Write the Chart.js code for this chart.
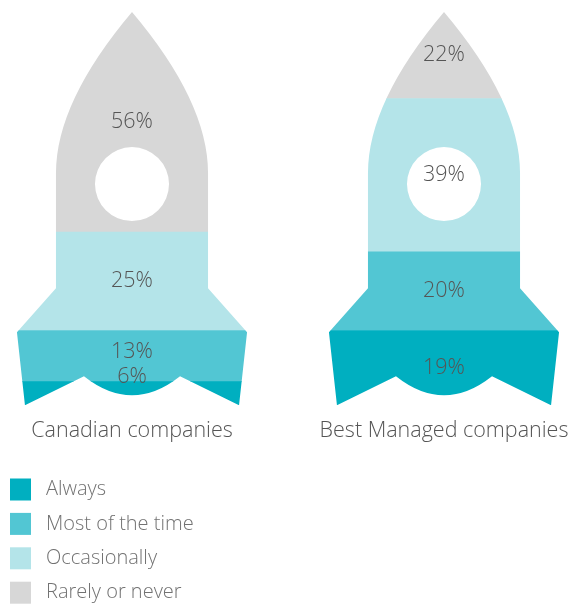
<!DOCTYPE html>
<html>
<head>
<meta charset="utf-8">
<script src="https://cdn.jsdelivr.net/npm/chart.js@4"></script>
<style>
  html, body { margin: 0; padding: 0; background: #fff; }
  #wrap { width: 582px; height: 607px; position: relative; }
</style>
</head>
<body>
<div id="wrap"><canvas id="rocketChart"></canvas></div>
<script>
// Data
var categories = ['Canadian companies', 'Best Managed companies'];
var seriesNames = ['Always', 'Most of the time', 'Occasionally', 'Rarely or never'];
var always = [6, 19];
var mostOfTheTime = [13, 20];
var occasionally = [25, 39];
var rarelyOrNever = [56, 22];

var seriesValues = [always, mostOfTheTime, occasionally, rarelyOrNever];
var seriesColors = ['#00AFC0', '#52C6D3', '#B4E4E9', '#D7D7D7'];
var fontFamily = '"Open Sans", "Noto Sans", sans-serif';

// rocket outline, in px relative to the bar centre and the top of the plot (393 px tall)
function rocketPath(ctx, cx, top, h) {
    var k = h / 393;
    function X(v) { return cx + v * k; }
    function Y(v) { return top + v * k; }
    ctx.moveTo(X(0), Y(0));
    ctx.quadraticCurveTo(X(76), Y(90), X(76), Y(161));
    ctx.lineTo(X(76), Y(276));
    ctx.lineTo(X(115), Y(320));
    ctx.lineTo(X(107), Y(393));
    ctx.lineTo(X(48), Y(364));
    ctx.quadraticCurveTo(X(24), Y(383), X(0), Y(383));
    ctx.quadraticCurveTo(X(-24), Y(383), X(-48), Y(364));
    ctx.lineTo(X(-107), Y(393));
    ctx.lineTo(X(-115), Y(320));
    ctx.lineTo(X(-76), Y(276));
    ctx.lineTo(X(-76), Y(161));
    ctx.quadraticCurveTo(X(-76), Y(90), X(0), Y(0));
    ctx.closePath();
    // window
    ctx.moveTo(X(37), Y(172));
    ctx.arc(X(0), Y(172), 37 * k, 0, Math.PI * 2);
    ctx.closePath();
}

var rocketClip = {
    id: 'rocketClip',
    beforeDatasetsDraw: function(chart) {
        var ctx = chart.ctx;
        var xs = chart.scales.x, ys = chart.scales.y;
        var top = ys.getPixelForValue(100), bottom = ys.getPixelForValue(0);
        ctx.save();
        ctx.beginPath();
        categories.forEach(function(c, i) {
            rocketPath(ctx, xs.getPixelForValue(i), top, bottom - top);
        });
        ctx.clip('evenodd');
    },
    afterDatasetsDraw: function(chart) {
        var ctx = chart.ctx;
        ctx.restore();
        // value labels, bottom-up so a thin segment does not collide with the one above
        ctx.save();
        ctx.font = '300 21.5px ' + fontFamily;
        ctx.fillStyle = '#555555';
        ctx.textAlign = 'center';
        ctx.textBaseline = 'middle';
        categories.forEach(function(c, i) {
            var prevY = Infinity;
            chart.data.datasets.forEach(function(ds, di) {
                var bar = chart.getDatasetMeta(di).data[i];
                var mid = (bar.y + bar.base) / 2;
                mid = Math.min(mid, bar.base - 28, prevY - 25);
                ctx.fillText(ds.data[i].y + '%', bar.x, mid);
                prevY = mid;
            });
        });
        ctx.restore();
    }
};

var sideLegend = {
    id: 'sideLegend',
    afterDraw: function(chart) {
        var ctx = chart.ctx;
        ctx.save();
        ctx.font = '300 20px ' + fontFamily;
        ctx.textBaseline = 'middle';
        chart.data.datasets.forEach(function(ds, i) {
            var cy = 489.5 + i * 34.4;
            ctx.fillStyle = ds.backgroundColor;
            ctx.fillRect(10, cy - 11, 21, 22);
            ctx.fillStyle = '#727272';
            ctx.fillText(ds.label, 46, cy);
        });
        ctx.restore();
    }
};

var datasets = seriesNames.map(function(name, s) {
    return {
        label: name,
        data: categories.map(function(c, i) { return { x: i, y: seriesValues[s][i] }; }),
        backgroundColor: seriesColors[s],
        borderWidth: 0,
        barThickness: 260
    };
});

new Chart(document.getElementById('rocketChart'), {
    type: 'bar',
    data: { datasets: datasets },
    options: {
        responsive: true,
        maintainAspectRatio: false,
        animation: false,
        layout: { padding: { top: 12, left: 0, right: 0, bottom: 150 } },
        plugins: {
            legend: { display: false },
            tooltip: { enabled: false }
        },
        scales: {
            x: {
                type: 'linear',
                stacked: true,
                offset: false,
                min: -132 / 312,
                max: 450 / 312,
                grid: { display: false, drawTicks: false },
                border: { display: false },
                afterBuildTicks: function(axis) {
                    axis.ticks = categories.map(function(c, i) { return { value: i }; });
                },
                ticks: {
                    autoSkip: false,
                    maxRotation: 0,
                    padding: 13,
                    color: '#555555',
                    font: { family: fontFamily, size: 21.5, weight: '300' },
                    callback: function(v) { return categories[v]; }
                }
            },
            y: {
                stacked: true,
                min: 0,
                max: 100,
                display: false
            }
        }
    },
    plugins: [rocketClip, sideLegend]
});
</script>
</body>
</html>
